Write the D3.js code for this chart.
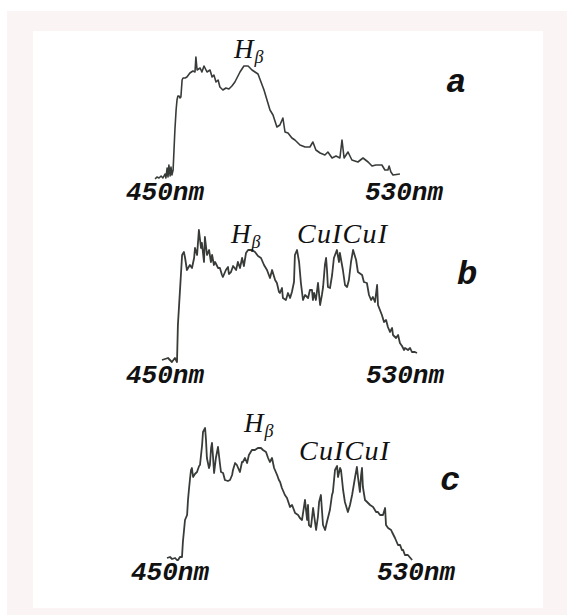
<!DOCTYPE html>
<html>
<head>
<meta charset="utf-8">
<script src="https://cdn.jsdelivr.net/npm/d3@7"></script>
<style>
  body { margin: 0; background: #fff; }
  svg { display: block; }
</style>
</head>
<body>
<svg id="chart" width="567" height="615"></svg>
<script>
// spectra: [wavelength nm, intensity a.u.]
const spectrumA = [
  [446.7,1],[447.3,3],[448.0,2],[448.7,4],[449.3,2],[450.0,6],[450.3,2],[450.7,12],[451.0,3],[451.3,15],
  [451.7,4],[452.0,13],[452.3,5],[452.7,10],[453.0,30],[453.3,50],[453.7,70],[454.0,80],[454.3,84],[454.7,84],
  [455.0,82],[455.3,83],[455.7,100],[456.0,102],[456.7,102],[457.3,103],[458.3,107],[459.3,109],[460.0,108],[460.3,123],
  [460.7,110],[461.7,112],[462.3,108],[463.0,114],[464.0,108],[465.0,110],[465.7,103],[466.3,105],[467.0,98],[467.7,100],
  [468.3,93],[469.3,90],[470.3,92],[471.3,91],[472.3,94],[473.3,98],[475.0,108],[476.3,114],[477.7,114],[479.0,110],
  [480.0,108],[481.0,106],[482.0,98],[483.0,90],[484.0,80],[485.0,70],[486.0,65],[487.3,53],[488.3,55],[489.3,62],
  [490.0,48],[491.0,47],[492.3,42],[493.3,40],[495.0,35],[496.7,33],[498.3,33],[499.3,38],[500.3,30],[501.7,27],
  [503.3,25],[504.3,28],[505.7,22],[507.0,24],[508.3,22],[509.0,40],[509.7,22],[511.0,28],[512.3,20],[514.3,18],
  [516.0,22],[517.7,18],[519.0,14],[520.3,15],[522.3,15],[523.3,10],[524.3,10],[524.7,14],[525.3,8],[526.0,5],[528.3,6]
];
const spectrumB = [
  [449.0,2],[451.0,4],[452.3,0],[453.3,4],[454.0,0],[454.3,37],[455.3,87],[455.7,107],[456.3,110],[456.7,104],
  [457.3,92],[458.3,97],[459.0,94],[459.7,104],[460.0,114],[460.7,107],[461.3,132],[462.0,114],[462.3,119],[463.0,100],
  [463.3,125],[464.0,107],[464.7,112],[465.3,100],[465.7,107],[466.3,97],[466.7,100],[467.7,94],[468.3,94],[469.0,87],
  [469.3,85],[470.3,92],[471.0,95],[471.3,88],[472.0,90],[472.7,96],[473.7,92],[474.3,100],[475.0,94],[475.7,104],
  [476.3,96],[477.0,109],[477.7,112],[479.0,112],[480.0,110],[481.0,106],[482.0,104],[483.0,97],[484.0,92],[485.0,84],
  [485.7,92],[486.7,82],[487.3,79],[488.0,70],[488.3,69],[489.0,74],[489.3,64],[490.3,62],[491.0,69],[491.7,64],
  [492.3,70],[493.0,80],[493.3,107],[494.0,112],[494.7,100],[495.3,79],[496.0,62],[496.7,67],[497.7,64],[498.3,72],
  [499.0,72],[499.3,62],[499.7,69],[500.3,62],[501.0,79],[501.7,57],[502.3,67],[502.7,75],[503.3,97],[503.7,104],
  [504.0,92],[504.3,75],[505.0,74],[505.7,87],[506.3,104],[507.3,112],[508.0,100],[508.3,109],[509.3,92],[510.0,77],
  [510.7,75],[511.3,82],[512.0,100],[512.7,112],[513.7,102],[514.3,90],[515.7,87],[516.3,80],[517.3,79],[518.0,67],
  [518.7,62],[519.3,65],[520.0,60],[520.7,77],[521.0,57],[522.3,47],[523.0,40],[523.7,42],[524.3,35],[525.0,30],
  [525.7,34],[526.0,27],[527.0,24],[527.7,27],[528.3,19],[529.0,16],[529.7,12],[530.0,14],[531.0,12],[531.7,14],
  [532.3,10],[533.3,10],[534.0,9]
];
const spectrumC = [
  [449.0,4],[450.0,5],[450.7,3],[451.7,4],[452.3,2],[452.7,2],[453.3,5],[454.0,5],[454.3,20],[455.0,42],
  [455.7,47],[456.0,62],[456.3,72],[456.7,84],[457.0,92],[457.3,94],[457.7,85],[458.3,88],[459.0,90],[459.7,96],
  [460.0,97],[460.7,117],[461.0,130],[461.7,134],[462.0,122],[462.3,104],[463.0,94],[463.3,97],[463.7,114],[464.0,119],
  [464.3,107],[464.7,89],[465.3,104],[466.0,115],[466.7,97],[467.0,90],[467.7,89],[468.3,82],[469.3,81],[470.0,82],
  [470.7,87],[471.0,92],[471.7,99],[472.3,97],[473.0,92],[473.3,90],[474.0,100],[474.3,100],[475.0,104],[475.7,99],
  [476.3,107],[477.3,112],[478.3,112],[479.3,114],[480.3,114],[481.0,112],[482.0,110],[482.7,104],[483.3,100],[484.0,104],
  [484.7,94],[485.7,87],[486.3,82],[486.7,80],[487.3,74],[488.3,67],[489.0,64],[490.0,55],[490.7,57],[491.7,49],
  [492.7,47],[493.3,44],[494.0,42],[495.0,62],[495.7,42],[496.0,57],[496.3,37],[497.0,35],[497.7,54],[498.7,32],
  [499.3,45],[499.7,60],[500.3,67],[501.0,37],[501.7,32],[502.3,40],[503.3,52],[504.0,67],[504.3,70],[505.0,92],
  [505.7,96],[506.0,85],[506.7,94],[507.0,92],[507.7,72],[508.3,60],[509.3,50],[510.0,57],[510.7,67],[511.7,85],
  [512.3,95],[512.7,84],[513.3,70],[513.7,87],[514.0,94],[514.3,75],[515.0,62],[515.7,60],[516.7,57],[517.7,55],
  [518.7,50],[519.3,50],[520.0,47],[521.0,47],[521.7,54],[522.0,37],[522.7,34],[523.7,32],[524.0,30],[525.0,24],
  [526.0,17],[526.7,17],[527.3,12],[527.7,12],[528.3,7],[529.3,7],[530.7,2]
];

const panelNames = ["a", "b", "c"];
const rangeLabels = ["450nm", "530nm"];
const rangeWl = [450, 530];
const hydrogenLabel = ["H", "\u03b2"];
const copperLabel = "CuICuI";

// layout of each panel on the page
const layout = [
  { data: spectrumA, x: [165, 405], base: 180, top: 55, nmY: 200, nmShift: [0, -1], lw: 1.6,
    h: [234, 58], cu: null, letter: [446, 92] },
  { data: spectrumB, x: [165, 405], base: 362, top: 232, nmY: 383, nmShift: [0, 0], lw: 1.8,
    h: [231, 243], cu: [297, 243], letter: [457, 284] },
  { data: spectrumC, x: [170, 410], base: 562, top: 422, nmY: 580, nmShift: [0, 6], lw: 1.8,
    h: [244, 432], cu: [299, 460], letter: [440, 490] }
];

const svg = d3.select("#chart");

// pale frame of the scanned figure
svg.append("rect").attr("x", 7).attr("y", 11).attr("width", 560).attr("height", 604).attr("fill", "#fbf4f4");
svg.append("rect").attr("x", 33).attr("y", 31).attr("width", 510).attr("height", 577).attr("fill", "#ffffff");

layout.forEach((p, i) => {
  const x = d3.scaleLinear().domain(rangeWl).range(p.x);
  const y = d3.scaleLinear().domain([0, p.base - p.top]).range([p.base, p.top]);
  const g = svg.append("g");

  const line = d3.line().x(d => x(d[0])).y(d => y(d[1]));
  g.append("path")
    .datum(p.data)
    .attr("d", line)
    .attr("fill", "none")
    .attr("stroke", "#383c38")
    .attr("stroke-width", p.lw)
    .attr("stroke-linejoin", "round");

  // wavelength range labels
  g.selectAll("text.nm")
    .data(rangeLabels)
    .join("text")
    .attr("class", "nm")
    .attr("x", (d, k) => x(rangeWl[k]) + p.nmShift[k])
    .attr("y", p.nmY)
    .attr("text-anchor", "middle")
    .attr("font-family", "'Liberation Mono', 'Courier New', monospace")
    .attr("font-weight", "bold")
    .attr("font-style", "italic")
    .attr("font-size", 26)
    .attr("fill", "#111")
    .text(d => d);

  // H beta
  const h = g.append("text")
    .attr("x", p.h[0]).attr("y", p.h[1])
    .attr("font-family", "'Liberation Serif', 'Times New Roman', serif")
    .attr("font-style", "italic")
    .attr("font-size", 27)
    .attr("fill", "#111");
  h.append("tspan").text(hydrogenLabel[0]);
  h.append("tspan").attr("dy", 5).attr("dx", 1).attr("font-size", 18).text(hydrogenLabel[1]);

  if (p.cu) {
    g.append("text")
      .attr("x", p.cu[0]).attr("y", p.cu[1])
      .attr("font-family", "'Liberation Serif', 'Times New Roman', serif")
      .attr("font-style", "italic")
      .attr("font-size", 28)
      .attr("letter-spacing", 1.2)
      .attr("fill", "#111")
      .text(copperLabel);
  }

  g.append("text")
    .attr("x", p.letter[0]).attr("y", p.letter[1])
    .attr("font-family", "'Liberation Mono', 'Courier New', monospace")
    .attr("font-weight", "bold")
    .attr("font-style", "italic")
    .attr("font-size", 34)
    .attr("fill", "#111")
    .text(panelNames[i]);
});
</script>
</body>
</html>
